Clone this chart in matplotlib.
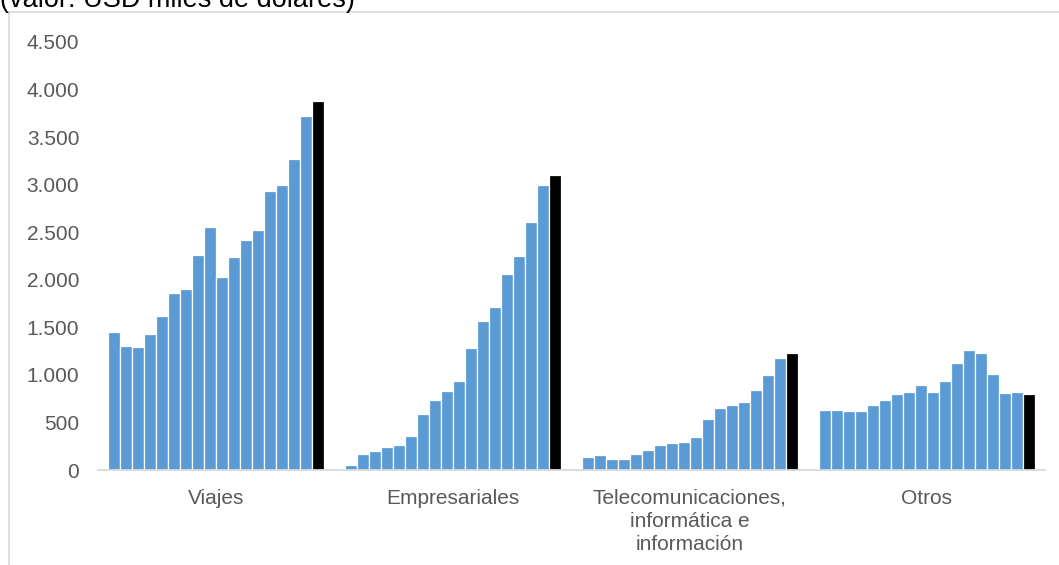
import matplotlib
matplotlib.use("Agg")
import matplotlib.pyplot as plt
from matplotlib.lines import Line2D
import numpy as np

plt.rcParams['font.family'] = ['Liberation Sans', 'DejaVu Sans']

categories = ["Viajes", "Empresariales", "Telecomunicaciones,\ninformática e\ninformación", "Otros"]

viajes = [1447, 1307, 1289, 1433, 1622, 1864, 1899, 2256, 2558, 2025, 2242, 2418, 2526, 2929, 2996, 3270, 3722, 3875]
empresariales = [53, 172, 203, 245, 266, 357, 592, 739, 834, 932, 1283, 1570, 1717, 2061, 2250, 2607, 2993, 3098]
telecom = [133, 161, 119, 119, 172, 210, 259, 280, 294, 343, 533, 648, 683, 718, 841, 999, 1177, 1233]
otros = [634, 634, 617, 624, 687, 739, 802, 816, 897, 823, 939, 1125, 1265, 1230, 1006, 813, 820, 796]

yticks = [0, 500, 1000, 1500, 2000, 2500, 3000, 3500, 4000, 4500]
ytick_labels = ["0", "500", "1.000", "1.500", "2.000", "2.500", "3.000", "3.500", "4.000", "4.500"]
title = "(valor: USD miles de dólares)"

series = [viajes, empresariales, telecom, otros]

W, H = 1059, 565
fig = plt.figure(figsize=(W / 100, H / 100), dpi=100)
ax = fig.add_axes([98 / W, 1 - 470 / H, (1045 - 98) / W, (470 - 42) / H])

n = len(viajes)
group_w = 0.912
bw = group_w / n
blue = "#5B9BD5"
for ci, vals in enumerate(series):
    xs = ci - group_w / 2 + bw / 2 + np.arange(n) * bw
    colors = [blue] * (n - 1) + ["#000000"]
    ax.bar(xs, vals, width=bw, color=colors, edgecolor="white", linewidth=0.9)

ax.set_xlim(-0.5, len(categories) - 0.5)
ax.set_ylim(0, 4500)
ax.set_yticks(yticks)
ax.set_yticklabels(ytick_labels)
ax.set_xticks(range(len(categories)))
ax.set_xticklabels(categories, linespacing=1.27)
ax.tick_params(axis="both", length=0, labelsize=15, colors="#595959")
ax.tick_params(axis="y", pad=13.5)
ax.tick_params(axis="x", pad=13.5)
for s in ["top", "right", "left"]:
    ax.spines[s].set_visible(False)
ax.spines["bottom"].set_color("#D9D9D9")
ax.spines["bottom"].set_linewidth(1.3)

# outer chart frame (top and left edges visible)
fig.add_artist(Line2D([9 / W, 1], [1 - 12 / H, 1 - 12 / H], color="#D9D9D9", lw=1.2, transform=fig.transFigure))
fig.add_artist(Line2D([9 / W, 9 / W], [0, 1 - 12 / H], color="#D9D9D9", lw=1.2, transform=fig.transFigure))

fig.text(0.0, 1 - 7 / H, title, fontsize=19.5, color="#000000", ha="left", va="baseline")

fig.savefig("out.png", dpi=100)
